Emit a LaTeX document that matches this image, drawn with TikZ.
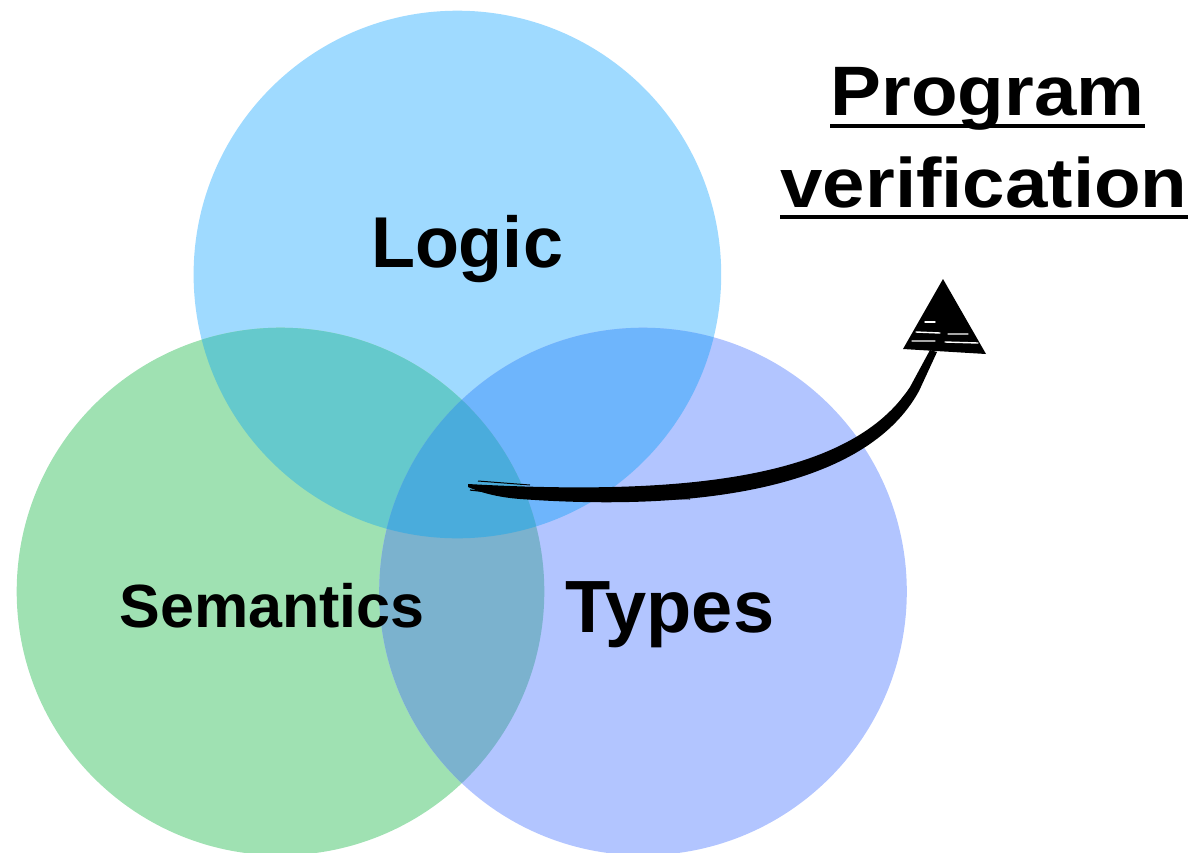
\documentclass[tikz,border=0pt]{standalone}
\usepackage{fontspec}
\setmainfont{Liberation Sans}
\newfontfamily\titlefont{Liberation Sans}[FakeStretch=1.09]
\definecolor{logicc}{RGB}{159,218,255}
\definecolor{semc}{RGB}{159,225,178}
\definecolor{typec}{RGB}{178,197,255}
\definecolor{lsc}{RGB}{101,201,204}
\definecolor{ltc}{RGB}{110,181,252}
\definecolor{stc}{RGB}{123,178,206}
\definecolor{lstc}{RGB}{74,172,220}
\begin{document}
\begin{tikzpicture}[x=1pt,y=-1pt,
  lbl/.style={inner sep=0pt, anchor=base, text=black},
  uline/.style={line width=3.5pt, black},
  brush/.style={fill=black},
  streak/.style={white, line width=1.4pt, line cap=round}]
\useasboundingbox (0,0) rectangle (1198,852);
\def\R{263.8pt}
\coordinate (L) at (457.4,274.5);
\coordinate (S) at (280.5,591.5);
\coordinate (T) at (643.0,591.5);
% circles
\fill[logicc] (L) circle[radius=\R];
\fill[semc] (S) circle[radius=\R];
\fill[typec] (T) circle[radius=\R];
% pairwise intersections
\begin{scope}\clip (L) circle[radius=\R]; \fill[lsc] (S) circle[radius=\R];\end{scope}
\begin{scope}\clip (L) circle[radius=\R]; \fill[ltc] (T) circle[radius=\R];\end{scope}
\begin{scope}\clip (S) circle[radius=\R]; \fill[stc] (T) circle[radius=\R];\end{scope}
\begin{scope}\clip (L) circle[radius=\R]; \clip (S) circle[radius=\R]; \fill[lstc] (T) circle[radius=\R];\end{scope}
% labels
\node[lbl, font=\bfseries\fontsize{72pt}{72pt}\selectfont] (logic) at (467,267) {Logic};
\node[lbl, font=\bfseries\fontsize{61pt}{61pt}\selectfont] (sem) at (272,627) {Semantics};
\node[lbl, font=\bfseries\fontsize{74pt}{74pt}\selectfont] (types) at (670,632) {Types};
\node[lbl, font=\titlefont\bfseries\fontsize{70pt}{70pt}\selectfont] (prog) at (987.5,115) {Program};
\node[lbl, font=\titlefont\bfseries\fontsize{70pt}{70pt}\selectfont] (verif) at (984,207) {verification};
\draw[uline] ([yshift=-11pt]prog.base west) -- ([yshift=-11pt]prog.base east);
\draw[uline] ([yshift=-10pt]verif.base west) -- ([yshift=-10pt]verif.base east);
% hand-drawn arrow
\coordinate (astart) at (468,484);
\coordinate (aend) at (943,279);
\fill[brush] (astart) .. controls (700,497) and (853,474) .. (910,387) -- (930,350)
  -- (937,352) -- (919,391) .. controls (866,488) and (700,512) .. (520,499)
  .. controls (495,497) and (480,492) .. (468,487) -- cycle;
\draw[black, line width=1.2pt] (470,490) -- (505,494);
\draw[black, line width=1pt] (478,481) -- (530,485);
\draw[black, line width=1pt] (580,497) -- (690,499);
\draw[black, line width=1pt] (820,466) .. controls (850,455) and (880,430) .. (905,395);
\fill[brush] (aend) -- (903,349) -- (986,354) -- cycle;
\draw[streak] (916,332) -- (940,333) (948,334) -- (968,334);
\draw[streak] (912,341) -- (935,341) (945,342) -- (978,343);
\draw[streak] (925,322) -- (935,322);
\end{tikzpicture}
\end{document}
